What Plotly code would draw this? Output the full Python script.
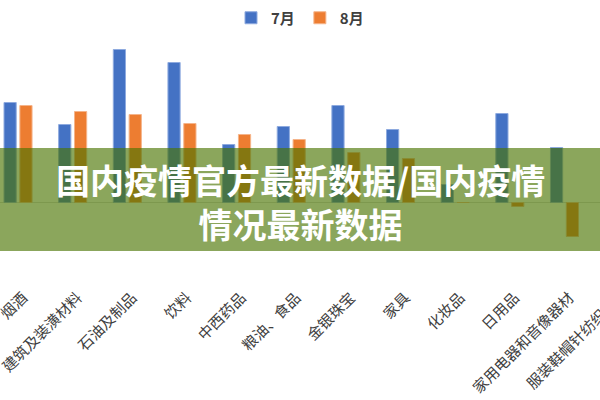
import plotly.graph_objects as go

# category labels and the two monthly series
categories = ["烟酒", "建筑及装潢材料", "石油及制品", "饮料", "中西药品", "粮油、食品",
              "金银珠宝", "家具", "化妆品", "日用品", "家用电器和音像器材", "服装鞋帽针纺织品"]
july = [10.0, 7.8, 15.3, 14.0, 5.8, 7.6, 9.7, 7.3, 1.8, 8.9, 5.5, 4.0]
august = [9.7, 9.1, 8.8, 7.9, 6.8, 6.3, 5.0, 4.4, 0.0, -0.4, -3.4, 2.0]
series_names = ["7月", "8月"]

title_text = "国内疫情官方最新数据/国内疫情<br>情况最新数据"

FONT = "Noto Sans CJK SC"
W, H = 600, 400
TOP, BOTTOM = 40, 275  # plot area in pixels
X_RANGE = [-0.33, 10.65]
LABEL_SHIFT, LABEL_STANDOFF = 5, 10


def px_to_paper(py):
    return (BOTTOM - py) / (BOTTOM - TOP)


fig = go.Figure()
fig.add_trace(go.Bar(x=categories, y=july, name=series_names[0],
                     marker=dict(color="#4472C4", line=dict(color="#8eaadf", width=1))))
fig.add_trace(go.Bar(x=categories, y=august, name=series_names[1],
                     marker=dict(color="#ED7D31", line=dict(color="#f5b48a", width=1))))

# green banner across the middle
fig.add_shape(type="rect", xref="paper", yref="paper", x0=0, x1=1,
              y0=px_to_paper(251), y1=px_to_paper(148),
              fillcolor="rgba(74,116,0,0.64)", line=dict(width=0), layer="above")

fig.add_annotation(text=title_text, xref="paper", yref="paper", x=0.5, y=px_to_paper(201),
                   xanchor="center", yanchor="middle", showarrow=False,
                   font=dict(family=FONT, size=34, color="white", weight="bold"))

# last label sits beyond the visible range, so place it in paper units
last_x = (len(categories) - 1 - X_RANGE[0]) / (X_RANGE[1] - X_RANGE[0]) + LABEL_SHIFT / W
fig.add_annotation(text=categories[-1], xref="paper", yref="paper", x=last_x,
                   y=px_to_paper(290), xanchor="right", yanchor="top", showarrow=False,
                   textangle=-45, font=dict(family=FONT, size=15, color="#404040"))

fig.update_layout(
    width=W, height=H,
    margin=dict(l=0, r=0, t=TOP, b=H - BOTTOM),
    paper_bgcolor="white", plot_bgcolor="white",
    barmode="group", bargap=0.42, bargroupgap=0.23,
    font=dict(family=FONT),
    legend=dict(orientation="h", x=0.5, xanchor="center", y=px_to_paper(18), yanchor="middle",
                font=dict(family=FONT, size=15, color="#404040", weight="bold"),
                itemwidth=30, traceorder="normal"),
    xaxis=dict(type="category", range=X_RANGE, tickangle=-45, showgrid=False, automargin=False,
               showline=False, ticks="", ticklabelshift=LABEL_SHIFT,
               ticklabelstandoff=LABEL_STANDOFF,
               tickfont=dict(family=FONT, size=15, color="#404040")),
    yaxis=dict(range=[(BOTTOM - 202.5) / -10, (202.5 - TOP) / 10], showgrid=False,
               automargin=False, showticklabels=False, zeroline=True,
               zerolinecolor="#d9d9d9", zerolinewidth=1),
)

# page body has a default margin; drop it so the chart sits at the window corner
fig.write_html("out.html", config={"displayModeBar": False},
               post_script="document.body.style.margin='0';")
